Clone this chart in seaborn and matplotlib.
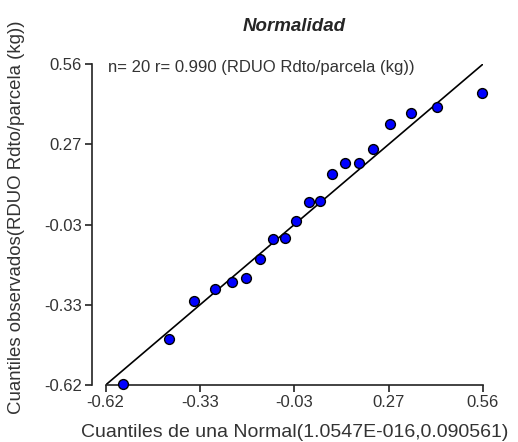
import numpy as np
import pandas as pd
import matplotlib
matplotlib.use("Agg")
import matplotlib.pyplot as plt
import seaborn as sns

cuantiles_normal = [-0.565, -0.422, -0.343, -0.278, -0.225, -0.182, -0.137, -0.098,
                    -0.058, -0.025, 0.015, 0.049, 0.089, 0.127, 0.171, 0.215,
                    0.269, 0.334, 0.417, 0.556]
cuantiles_obs = [-0.616, -0.450, -0.311, -0.266, -0.242, -0.226, -0.157, -0.085,
                 -0.080, -0.017, 0.052, 0.056, 0.156, 0.196, 0.195, 0.248,
                 0.339, 0.381, 0.403, 0.454]
# reference line y = x across the axis range
ref_line = [-0.62, 0.56]
tick_values = [-0.62, -0.325, -0.03, 0.265, 0.56]
tick_labels = ["-0.62", "-0.33", "-0.03", "0.27", "0.56"]

sns.set_style("ticks")
plt.rcParams["font.family"] = ["Liberation Sans", "DejaVu Sans"]

data = pd.DataFrame({"x": cuantiles_normal, "y": cuantiles_obs})
line = pd.DataFrame({"x": ref_line, "y": ref_line})

fig = plt.figure(figsize=(5.18, 4.42), dpi=100)
ax = fig.add_axes([0.204, 0.129, 0.7284, 0.726])

sns.lineplot(data=line, x="x", y="y", color="black", linewidth=1.2, ax=ax)
sns.scatterplot(data=data, x="x", y="y", color="#0000ff", edgecolor="black",
                linewidth=1.0, s=50, zorder=3, clip_on=False, ax=ax)

ax.set_xlim(-0.62, 0.56)
ax.set_ylim(-0.62, 0.56)
ax.set_xticks(tick_values)
ax.set_xticklabels(tick_labels)
ax.set_yticks(tick_values)
ax.set_yticklabels(tick_labels)
ax.tick_params(axis="both", labelsize=12, length=5, width=1.2, colors="#222222",
               labelcolor="#333333", pad=2)

sns.despine(ax=ax)
ax.spines["left"].set_position(("outward", 10))
for side in ["left", "bottom"]:
    ax.spines[side].set_linewidth(1.2)
    ax.spines[side].set_color("#222222")

ax.set_xlabel("Cuantiles de una Normal(1.0547E-016,0.090561)", fontsize=14,
              color="#333333")
ax.set_ylabel("Cuantiles observados(RDUO Rdto/parcela (kg))", fontsize=13.4,
              color="#333333")
ax.xaxis.set_label_coords(0.5, -0.122)
ax.yaxis.set_label_coords(-0.215, 0.523)
ax.set_title("Normalidad", fontsize=13.5, fontweight="bold", fontstyle="italic",
             pad=24)

ax.text(0.007, 0.988, "n= 20 r= 0.990 (RDUO Rdto/parcela (kg))", transform=ax.transAxes,
        fontsize=12, color="#333333", va="center", ha="left")

fig.savefig("out.png", dpi=100)
